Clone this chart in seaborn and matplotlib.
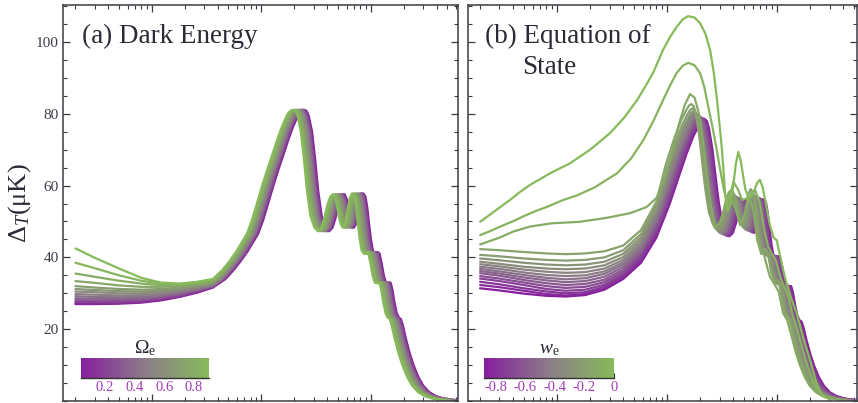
import numpy as np
import pandas as pd
import matplotlib
matplotlib.use("Agg")
import matplotlib.pyplot as plt
from matplotlib.colors import LinearSegmentedColormap, Normalize
from matplotlib.ticker import FixedLocator, MultipleLocator, LogLocator, NullFormatter
import seaborn as sns

sns.set_style("ticks")
plt.rcParams["font.family"] = ["Liberation Serif", "DejaVu Serif"]
plt.rcParams["mathtext.fontset"] = "custom"
plt.rcParams["mathtext.rm"] = "Liberation Serif"
plt.rcParams["mathtext.it"] = "Liberation Serif:italic"
plt.rcParams["axes.unicode_minus"] = False

# ---------------- panel (a): dark energy density ----------------
omega_e = [0.05, 0.12, 0.2, 0.28, 0.35, 0.42, 0.5, 0.57, 0.64, 0.7, 0.76, 0.81, 0.86, 0.9]
ell_low_a = [2, 3, 5, 8, 12, 18, 26, 36]
low_a = [
    [27.0, 27.0, 27.1, 27.4, 28.0, 29.0, 30.2, 31.6],
    [27.2, 27.2, 27.3, 27.6, 28.2, 29.2, 30.4, 31.7],
    [27.6, 27.6, 27.6, 27.9, 28.5, 29.4, 30.6, 31.8],
    [28.1, 28.0, 28.0, 28.2, 28.8, 29.7, 30.8, 31.9],
    [28.6, 28.5, 28.4, 28.6, 29.1, 29.9, 31.0, 32.0],
    [29.2, 29.0, 28.9, 29.0, 29.5, 30.2, 31.2, 32.2],
    [29.8, 29.6, 29.4, 29.5, 29.9, 30.6, 31.5, 32.4],
    [30.5, 30.3, 30.0, 30.0, 30.4, 31.0, 31.8, 32.6],
    [31.2, 30.9, 30.6, 30.5, 30.8, 31.3, 32.1, 32.8],
    [32.0, 31.6, 31.2, 31.0, 31.2, 31.6, 32.3, 33.0],
    [33.4, 32.9, 32.2, 31.8, 31.8, 32.0, 32.6, 33.2],
    [35.5, 34.6, 33.5, 32.7, 32.3, 32.4, 32.9, 33.5],
    [38.5, 37.0, 35.0, 33.5, 32.7, 32.6, 33.1, 33.8],
    [42.5, 39.9, 36.9, 34.3, 33.0, 32.7, 33.2, 34.0],
]
# multipole scale of the acoustic pattern for each curve
peak_scale_a = [1.0, 0.985, 0.97, 0.955, 0.94, 0.925, 0.905, 0.885, 0.865, 0.85, 0.835, 0.82, 0.805, 0.79]
# acoustic spectrum of the lowest-density model
ell_ac_a = [39, 47, 55, 64, 74, 83, 93, 104, 115, 128, 142, 158, 175, 191, 207, 220, 234, 246, 258, 270,
            290, 310, 330, 355, 385, 415, 445, 475, 505, 540, 575, 605, 635, 665, 700, 735, 770, 810, 850, 890,
            925, 960, 1000, 1040, 1090, 1150, 1200, 1250, 1310, 1370, 1440, 1510, 1570, 1640, 1720, 1800, 1880,
            1960, 2080, 2250, 2450, 2700, 3000, 3400, 3900, 4600, 5500, 6300]
dT_ac_a = [32.0, 34.0, 36.3, 38.8, 41.5, 44.0, 46.5, 50.5, 55.0, 59.8, 64.2, 68.4, 72.5, 75.8, 78.3, 80.0,
           80.9, 81.1, 80.8, 79.5, 75.0, 67.0, 58.5, 51.5, 48.3, 47.3, 48.2, 51.0, 54.5, 57.0, 57.6, 56.0, 52.5,
           49.5, 48.3, 49.5, 53.0, 56.5, 57.8, 57.0, 54.0, 49.5, 45.0, 42.0, 41.0, 41.5, 41.0, 38.5, 35.0, 33.0,
           32.8, 33.0, 31.0, 27.5, 24.5, 23.2, 22.8, 21.0, 17.5, 13.5, 10.0, 6.8, 4.3, 2.5, 1.4, 0.7, 0.35, 0.2]

# ---------------- panel (b): equation of state ----------------
# three highest-w models
ell_w0 = [2, 2.8, 3.74, 4.6, 5.69, 8.5, 13.1, 20, 30.3, 41, 53.4, 64, 75, 92, 107, 123, 139, 155, 178, 200,
          224, 246, 266, 285, 300, 316, 327, 337, 348, 359, 380, 400, 422, 445, 467, 490, 515, 544, 580, 620,
          660, 700, 740, 780, 860, 930, 993, 1090, 1183, 1330, 1510, 1750, 1995, 2250, 2545, 3000]
dT_w0 = [49.9, 53.2, 56.0, 58.2, 60.2, 63.3, 66.2, 70.0, 74.6, 79.0, 83.8, 87.8, 91.5, 97.8, 101.5, 104.3,
         106.3, 107.2, 106.8, 105.2, 102.2, 97.8, 91.5, 83.8, 77.0, 69.9, 63.5, 57.9, 54.5, 53.0, 55.5, 60.0,
         66.0, 69.4, 67.0, 63.0, 59.0, 57.0, 57.0, 58.5, 60.8, 61.6, 59.5, 56.0, 49.0, 45.5, 44.8, 39.0, 34.2,
         29.0, 24.4, 17.0, 11.4, 5.5, 1.5, 0.5]
ell_w1 = [2, 2.5, 3, 4, 5, 6.5, 8, 11.4, 15, 22, 35, 47, 61, 76, 92, 107, 122, 139, 156, 178, 200, 218, 237,
          260, 283, 305, 325, 342, 359, 380, 401, 440, 481, 550, 631, 700, 760, 830, 900, 980, 1060, 1150, 1260,
          1380, 1520, 1700, 1900, 2150, 2450, 2800]
dT_w1 = [46.2, 47.4, 48.5, 50.1, 51.5, 53.0, 54.0, 56.0, 57.2, 59.5, 63.4, 67.5, 72.7, 78.3, 83.8, 88.0, 91.3,
         93.4, 94.2, 93.5, 91.3, 87.5, 82.0, 76.0, 69.9, 64.2, 59.7, 56.5, 55.0, 58.0, 61.1, 59.0, 56.0, 56.5,
         58.8, 55.0, 48.0, 43.0, 41.0, 39.0, 35.0, 32.0, 29.5, 24.0, 20.0, 14.5, 9.5, 5.0, 2.3, 1.0]
ell_w2 = [2, 3, 4, 5.7, 9, 16, 28, 46, 65, 80, 95, 110, 128, 145, 162, 178, 195, 212, 230, 250, 273, 300, 335,
          379, 420, 461, 510, 560, 610, 659, 718, 758, 810, 863, 949, 1034, 1133, 1238, 1370, 1482, 1614, 1778,
          1976, 2239, 2569, 3000]
dT_w2 = [43.6, 45.5, 47.2, 48.6, 49.5, 49.9, 51.0, 52.3, 54.0, 56.5, 62.0, 69.0, 77.0, 82.5, 85.5, 84.5, 80.0,
         72.5, 63.0, 54.5, 48.5, 49.5, 54.0, 57.0, 53.5, 49.0, 52.0, 57.0, 53.0, 45.0, 41.0, 41.0, 37.5, 34.5,
         32.5, 30.5, 24.5, 22.5, 17.5, 13.5, 10.0, 6.8, 4.3, 2.5, 1.4, 0.7]
w_top = [-0.11, -0.055, 0.0]

# remaining models, from most negative w upward
w_band = [-0.88, -0.825, -0.77, -0.715, -0.66, -0.605, -0.55, -0.495, -0.44, -0.385, -0.33, -0.275, -0.22, -0.165]
ell_low_b = [2, 3, 5, 8, 12, 18, 27, 40, 58, 80]
low_b = [
    [31.4, 30.8, 29.9, 29.3, 29.1, 29.5, 31.0, 34.0, 38.5, 45.5],
    [32.3, 31.7, 30.7, 29.8, 29.4, 29.8, 31.3, 34.4, 39.0, 46.2],
    [33.2, 32.5, 31.4, 30.5, 30.0, 30.3, 31.8, 34.9, 39.6, 46.8],
    [34.1, 33.4, 32.3, 31.2, 30.7, 31.0, 32.4, 35.4, 40.2, 47.4],
    [34.8, 34.1, 33.0, 32.0, 31.5, 31.8, 33.1, 36.0, 40.8, 48.1],
    [35.6, 34.9, 33.7, 32.8, 32.3, 32.6, 33.8, 36.6, 41.4, 48.9],
    [36.2, 35.5, 34.4, 33.6, 33.1, 33.4, 34.6, 37.3, 42.0, 49.7],
    [36.8, 36.1, 35.1, 34.3, 33.9, 34.2, 35.4, 38.0, 42.7, 50.5],
    [37.4, 36.8, 35.8, 35.1, 34.8, 35.0, 36.1, 38.6, 43.3, 51.4],
    [38.1, 37.5, 36.6, 36.0, 35.7, 35.9, 36.9, 39.3, 44.0, 52.4],
    [38.8, 38.2, 37.4, 36.9, 36.7, 36.9, 37.8, 40.1, 44.8, 53.5],
    [39.7, 39.2, 38.5, 38.0, 37.8, 38.0, 38.8, 41.0, 45.6, 53.5],
    [40.7, 40.3, 39.7, 39.3, 39.1, 39.3, 40.0, 42.0, 46.5, 54.5],
    [42.3, 42.0, 41.5, 41.1, 40.9, 41.1, 41.7, 43.3, 47.6, 55.5],
]
peak_scale_b = [1.0, 0.98, 0.965, 0.95, 0.93, 0.91, 0.89, 0.87, 0.85, 0.83, 0.815, 0.80, 0.78, 0.76]
first_peak_b = [78.6, 78.6, 78.7, 78.8, 79.0, 79.2, 79.4, 79.6, 79.8, 80.0, 80.4, 80.8, 81.5, 82.7]
ell_ac_b = [45, 65, 85, 106, 128, 151, 175, 196, 208, 219, 230, 240, 258, 276, 294, 316, 343, 369, 396, 423,
            449, 481, 512, 538, 565, 592, 623, 654, 685, 721, 757, 792, 823, 854, 890, 926, 970, 1024, 1068, 1113,
            1166, 1219, 1282, 1344, 1397, 1460, 1531, 1602, 1673, 1744, 1851, 2003, 2181, 2403, 2670, 3026, 3471,
            4094, 4895, 5607]
dT_ac_b = [34.0, 40.5, 47.5, 55.0, 62.5, 69.0, 74.0, 76.9, 78.2, 78.6, 78.0, 76.1, 70.3, 62.6, 55.8, 50.0, 46.9,
           45.9, 46.8, 49.5, 52.9, 55.3, 55.9, 54.3, 50.9, 48.0, 46.9, 48.0, 51.4, 54.8, 56.1, 55.3, 52.4, 48.0,
           43.6, 40.7, 39.8, 40.3, 39.8, 37.3, 34.0, 32.0, 31.8, 32.0, 30.1, 26.7, 23.8, 22.5, 22.1, 20.4, 17.0,
           13.1, 9.7, 6.6, 4.2, 2.4, 1.4, 0.7, 0.35, 0.2]

# ---------------- assemble long-form tables ----------------
rows_a = []
for om, low, s in zip(omega_e, low_a, peak_scale_a):
    ells = list(ell_low_a) + [l * s for l in ell_ac_a if l * s > 40]
    vals = list(low) + [v for l, v in zip(ell_ac_a, dT_ac_a) if l * s > 40]
    rows_a += [(om, l, v) for l, v in zip(ells, vals)]
df_a = pd.DataFrame(rows_a, columns=["omega", "ell", "dT"])

rows_b = []
ref_peak = max(dT_ac_b)
for w, low, s, pk in zip(w_band, low_b, peak_scale_b, first_peak_b):
    amp = pk / ref_peak
    ells = list(ell_low_b) + [l * s for l in ell_ac_b if l * s > 85]
    vals = list(low) + [v * amp for l, v in zip(ell_ac_b, dT_ac_b) if l * s > 85]
    rows_b += [(w, l, v) for l, v in zip(ells, vals)]
for w, ells, vals in zip(w_top, [ell_w2, ell_w1, ell_w0], [dT_w2, dT_w1, dT_w0]):
    rows_b += [(w, l, v) for l, v in zip(ells, vals)]
df_b = pd.DataFrame(rows_b, columns=["w", "ell", "dT"])

# ---------------- figure ----------------
cmap = LinearSegmentedColormap.from_list("purple_green", ["#861e9e", "#8b7c88", "#86ba5a"])
norm_a = Normalize(0.04, 0.9)
norm_b = Normalize(-0.88, 0.0)

fig = plt.figure(figsize=(8.58, 4.03), dpi=100)
ax_a = fig.add_axes([63 / 858, 2 / 403, 395 / 858, 396 / 403])
ax_b = fig.add_axes([468 / 858, 2 / 403, 389 / 858, 396 / 403])

spine_col = "#3a3a42"
text_col = "#2b2b36"
for ax in (ax_a, ax_b):
    ax.set_xscale("log")

sns.lineplot(data=df_a, x="ell", y="dT", hue="omega", units="omega", estimator=None, sort=False,
             palette=cmap, hue_norm=norm_a, lw=1.6, legend=False, ax=ax_a)
sns.lineplot(data=df_b, x="ell", y="dT", hue="w", units="w", estimator=None, sort=False,
             palette=cmap, hue_norm=norm_b, lw=1.6, legend=False, ax=ax_b)

ax_a.set_xlim(1.54, 6240)
ax_b.set_xlim(1.552, 5330)
for ax in (ax_a, ax_b):
    ax.set_ylim(0, 110.3)
    ax.set_xlabel("")
    ax.set_ylabel("")
    ax.yaxis.set_major_locator(FixedLocator([20, 40, 60, 80, 100]))
    ax.yaxis.set_minor_locator(MultipleLocator(5))
    ax.xaxis.set_major_locator(LogLocator(base=10, numticks=20))
    ax.xaxis.set_minor_locator(LogLocator(base=10, subs=np.arange(2, 10), numticks=20))
    ax.xaxis.set_minor_formatter(NullFormatter())
    ax.tick_params(which="both", direction="in", top=True, right=True, labelbottom=False,
                   color=spine_col, labelcolor="#3c3c4a", labelsize=11, pad=3)
    ax.tick_params(which="major", length=5, width=0.9)
    ax.tick_params(which="minor", length=2.6, width=0.8)
    for sp in ax.spines.values():
        sp.set_color(spine_col)
        sp.set_linewidth(1.1)
ax_b.tick_params(labelleft=False)

ax_a.set_ylabel("Δ$_{T}$(μK)", fontsize=19, color=text_col)
ax_a.yaxis.set_label_coords(-0.076, 0.5)

ax_a.text(0.048, 0.904, "(a) Dark Energy", transform=ax_a.transAxes, fontsize=19.5,
          color=text_col, va="baseline", ha="left")
ax_b.text(0.044, 0.904, "(b) Equation of", transform=ax_b.transAxes, fontsize=19.5,
          color=text_col, va="baseline", ha="left")
ax_b.text(0.139, 0.826, "State", transform=ax_b.transAxes, fontsize=19.5,
          color=text_col, va="baseline", ha="left")

# inset colour scales
def add_scale(ax, rect, norm, ticks, minor, title):
    cax = ax.inset_axes(rect)
    sm = plt.cm.ScalarMappable(norm=norm, cmap=cmap)
    cb = fig.colorbar(sm, cax=cax, orientation="horizontal")
    cb.outline.set_visible(False)
    cb.set_ticks(ticks)
    cb.set_ticks(minor, minor=True)
    cb.ax.set_xticklabels([f"{t:g}" for t in ticks])
    cax.spines["bottom"].set_visible(True)
    cax.spines["bottom"].set_color("#333333")
    cax.spines["bottom"].set_linewidth(1.0)
    cax.tick_params(which="both", direction="in", color="#333333", labelcolor="#a23cb6",
                    labelsize=10.5, pad=2)
    cax.tick_params(which="major", length=3.5, width=0.8)
    cax.tick_params(which="minor", length=2.5, width=0.7)
    cax.set_title(title, fontsize=14, pad=1.5, color=text_col)
    return cb

add_scale(ax_a, [0.0448, 0.058, 0.3248, 0.0513], norm_a, [0.2, 0.4, 0.6, 0.8],
          [0.1, 0.3, 0.5, 0.7], "Ω$_{\\rm e}$")
add_scale(ax_b, [0.0411, 0.058, 0.334, 0.0513], norm_b, [-0.8, -0.6, -0.4, -0.2, 0.0],
          [-0.7, -0.5, -0.3, -0.1], "$w_{\\rm e}$")

fig.savefig("out.png", dpi=100)
